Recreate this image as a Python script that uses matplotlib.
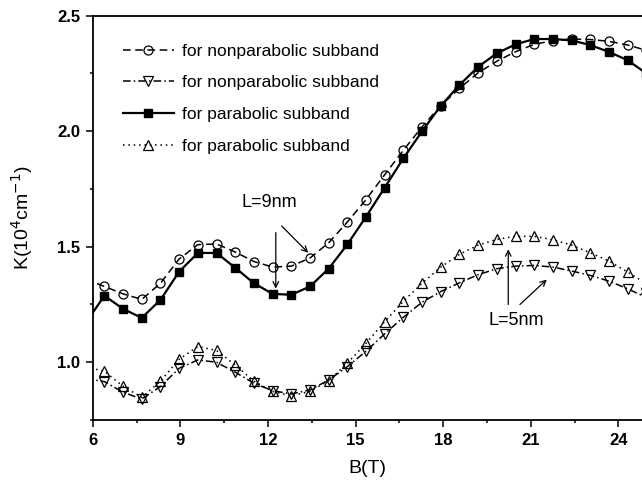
import matplotlib
matplotlib.use("Agg")
import matplotlib.pyplot as plt
from matplotlib.ticker import MultipleLocator

plt.rcParams['font.family'] = ['Liberation Sans', 'DejaVu Sans']

# magnetic field B (T); first point lies just left of the visible range
B = [5.76, 6.40, 7.04, 7.68, 8.32, 8.96, 9.60, 10.24, 10.88, 11.52, 12.16,
     12.80, 13.44, 14.08, 14.72, 15.36, 16.00, 16.64, 17.28, 17.92, 18.56,
     19.20, 19.84, 20.48, 21.12, 21.76, 22.40, 23.04, 23.68, 24.32, 24.96]

# L = 9 nm
k9_nonpara = [1.36, 1.328, 1.296, 1.272, 1.342, 1.447, 1.509, 1.512, 1.477, 1.436,
              1.412, 1.416, 1.451, 1.517, 1.607, 1.704, 1.812, 1.918, 2.019, 2.111,
              2.185, 2.253, 2.303, 2.344, 2.376, 2.392, 2.399, 2.397, 2.389, 2.373, 2.35]
k9_para = [1.17, 1.288, 1.231, 1.192, 1.270, 1.392, 1.473, 1.473, 1.409, 1.342,
           1.296, 1.292, 1.328, 1.405, 1.510, 1.630, 1.756, 1.883, 2.000, 2.110,
           2.200, 2.279, 2.337, 2.376, 2.399, 2.399, 2.393, 2.373, 2.343, 2.307, 2.25]

# L = 5 nm
k5_nonpara = [0.93, 0.916, 0.870, 0.841, 0.895, 0.974, 1.010, 1.000, 0.957, 0.909,
              0.877, 0.863, 0.880, 0.923, 0.981, 1.048, 1.123, 1.195, 1.260, 1.306,
              1.344, 1.379, 1.405, 1.416, 1.419, 1.412, 1.395, 1.376, 1.351, 1.318, 1.28]
k5_para = [0.98, 0.961, 0.896, 0.848, 0.918, 1.013, 1.068, 1.051, 0.988, 0.918,
           0.874, 0.854, 0.874, 0.920, 0.996, 1.082, 1.176, 1.264, 1.342, 1.412,
           1.467, 1.507, 1.532, 1.545, 1.545, 1.530, 1.507, 1.474, 1.438, 1.390, 1.34]

labels = ["for nonparabolic subband", "for nonparabolic subband",
          "for parabolic subband", "for parabolic subband"]

fig = plt.figure(figsize=(6.42, 4.84), dpi=100)
ax = fig.add_axes([0.1444, 0.1322, 0.8556, 0.8354])

ax.plot(B, k9_nonpara, color='black', lw=1.1, dashes=(5, 3), marker='o',
        ms=6.5, mfc='none', mec='black', mew=0.9, label=labels[0])
ax.plot(B, k5_nonpara, color='black', lw=1.1, dashes=(5, 2, 1, 2), marker='v',
        ms=6.5, mfc='none', mec='black', mew=0.9, label=labels[1])
ax.plot(B, k9_para, color='black', lw=1.6, ls='-', marker='s',
        ms=6, mfc='black', mec='black', label=labels[2])
ax.plot(B, k5_para, color='black', lw=1.1, dashes=(1, 2.5), marker='^',
        ms=6.5, mfc='none', mec='black', mew=0.9, label=labels[3])

ax.set_xlim(6, 24.81)
ax.set_ylim(0.75, 2.5)
ax.xaxis.set_major_locator(MultipleLocator(3))
ax.xaxis.set_minor_locator(MultipleLocator(1.5))
ax.yaxis.set_major_locator(MultipleLocator(0.5))
ax.yaxis.set_minor_locator(MultipleLocator(0.25))
ax.set_yticks([1.0, 1.5, 2.0, 2.5])
ax.tick_params(which='major', length=5, width=1.1, labelsize=12, pad=4)
ax.tick_params(which='minor', length=2.5, width=1.1)
for lab in ax.get_xticklabels() + ax.get_yticklabels():
    lab.set_fontweight('bold')

ax.spines['right'].set_visible(False)
for s in ['left', 'top', 'bottom']:
    ax.spines[s].set_linewidth(1.3)

ax.set_xlabel("B(T)", fontsize=14)
ax.set_ylabel("K(10$^4$cm$^{-1}$)", fontsize=14)
ax.xaxis.set_label_coords(0.5, -0.121)
ax.xaxis.label.set_va('center')
ax.yaxis.set_label_coords(-0.129, 0.5)
ax.yaxis.label.set_va('center')

ax.legend(loc='upper left', bbox_to_anchor=(0.043, 0.948), borderaxespad=0,
          frameon=False, fontsize=12.5, numpoints=1, handlelength=2.9,
          handletextpad=0.5, labelspacing=0.95)

# annotations
arrow = dict(arrowstyle='->', color='black', lw=0.9, shrinkA=0, shrinkB=0)
ax.text(12.05, 1.69, "L=9nm", fontsize=13, ha='center', va='center')
ax.annotate("", xy=(12.27, 1.319), xytext=(12.27, 1.561), arrowprops=arrow)
ax.annotate("", xy=(13.38, 1.474), xytext=(12.47, 1.590), arrowprops=arrow)

ax.text(20.52, 1.181, "L=5nm", fontsize=13, ha='center', va='center')
ax.annotate("", xy=(20.23, 1.489), xytext=(20.23, 1.250), arrowprops=arrow)
ax.annotate("", xy=(21.55, 1.358), xytext=(20.63, 1.250), arrowprops=arrow)

fig.savefig("out.png", dpi=100)
